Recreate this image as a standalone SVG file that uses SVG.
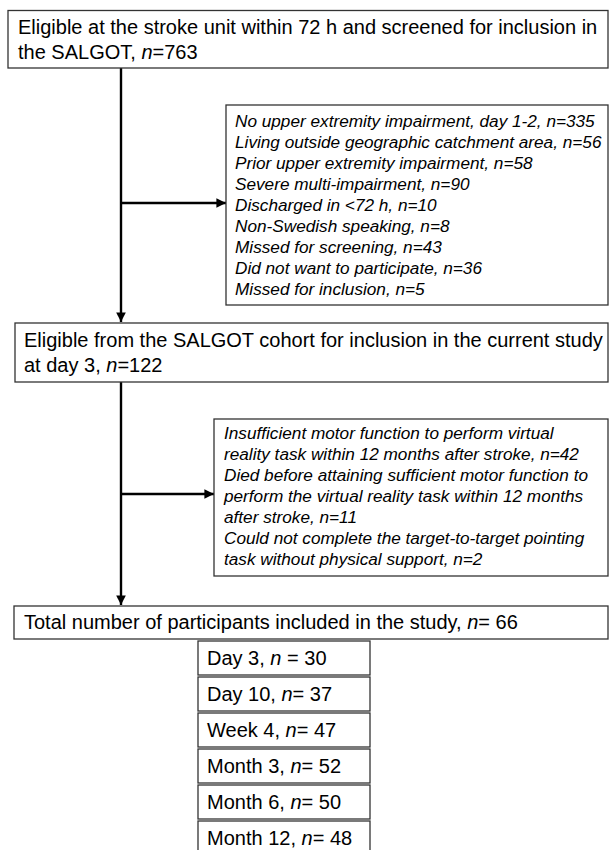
<svg xmlns="http://www.w3.org/2000/svg" width="610" height="850" viewBox="0 0 610 850">
<defs>
<style>
.box{fill:#fff;stroke:#333;stroke-width:1.3}
.t{font-family:"Liberation Sans",Arial,sans-serif;font-size:20px;fill:#000}
.ti{font-family:"Liberation Sans",Arial,sans-serif;font-size:17.2px;font-style:italic;fill:#000}
.conn{stroke:#000;stroke-width:2.4;fill:none}
</style>
<marker id="arr" viewBox="0 0 10 10" refX="10" refY="5" markerWidth="4" markerHeight="4" orient="auto" markerUnits="strokeWidth">
<path d="M0,0 L10,5 L0,10 z" fill="#000"/>
</marker>
</defs>
<rect width="610" height="850" fill="#fff"/>
<g id="connectors">
<line class="conn" x1="121" y1="68" x2="121" y2="322" marker-end="url(#arr)"/>
<line class="conn" x1="121" y1="203" x2="226" y2="203" marker-end="url(#arr)"/>
<line class="conn" x1="121" y1="382" x2="121" y2="605" marker-end="url(#arr)"/>
<line class="conn" x1="121" y1="494" x2="214" y2="494" marker-end="url(#arr)"/>
</g>
<g id="n1">
<rect class="box" x="8" y="10.5" width="600" height="57.5"/>
<text class="t" x="18" y="34">Eligible at the stroke unit within 72 h and screened for inclusion in</text>
<text class="t" x="18" y="59">the SALGOT, <tspan font-style="italic">n</tspan>=763</text>
</g>
<g id="excl1">
<rect class="box" x="226" y="105" width="382" height="200"/>
<text class="ti" x="235">
<tspan x="235" y="127">No upper extremity impairment, day 1-2, n=335</tspan>
<tspan x="235" y="148">Living outside geographic catchment area, n=56</tspan>
<tspan x="235" y="169">Prior upper extremity impairment, n=58</tspan>
<tspan x="235" y="190">Severe multi-impairment, n=90</tspan>
<tspan x="235" y="211">Discharged in &lt;72 h, n=10</tspan>
<tspan x="235" y="232">Non-Swedish speaking, n=8</tspan>
<tspan x="235" y="253">Missed for screening, n=43</tspan>
<tspan x="235" y="274">Did not want to participate, n=36</tspan>
<tspan x="235" y="295">Missed for inclusion, n=5</tspan>
</text>
</g>
<g id="n2">
<rect class="box" x="15" y="323" width="593" height="59"/>
<text class="t" x="24" y="347">Eligible from the SALGOT cohort for inclusion in the current study</text>
<text class="t" x="24" y="372">at day 3, <tspan font-style="italic">n</tspan>=122</text>
</g>
<g id="excl2">
<rect class="box" x="214" y="419" width="394" height="157"/>
<text class="ti">
<tspan x="224" y="439">Insufficient motor function to perform virtual</tspan>
<tspan x="224" y="460">reality task within 12 months after stroke, n=42</tspan>
<tspan x="224" y="481">Died before attaining sufficient motor function to</tspan>
<tspan x="224" y="502">perform the virtual reality task within 12 months</tspan>
<tspan x="224" y="523">after stroke, n=11</tspan>
<tspan x="224" y="544">Could not complete the target-to-target pointing</tspan>
<tspan x="224" y="565">task without physical support, n=2</tspan>
</text>
</g>
<g id="total">
<rect class="box" x="14" y="606" width="594" height="33"/>
<text class="t" x="24" y="629">Total number of participants included in the study, <tspan font-style="italic">n</tspan>= 66</text>
</g>
<g id="day3">
<rect class="box" x="198" y="641" width="172" height="34"/>
<text class="t" x="207" y="665">Day 3, <tspan font-style="italic">n</tspan> = 30</text>
</g>
<g id="day10">
<rect class="box" x="198" y="677" width="172" height="34"/>
<text class="t" x="207" y="701">Day 10, <tspan font-style="italic">n</tspan>= 37</text>
</g>
<g id="week4">
<rect class="box" x="198" y="713" width="172" height="34"/>
<text class="t" x="207" y="737">Week 4, <tspan font-style="italic">n</tspan>= 47</text>
</g>
<g id="month3">
<rect class="box" x="198" y="749" width="172" height="34"/>
<text class="t" x="207" y="773">Month 3, <tspan font-style="italic">n</tspan>= 52</text>
</g>
<g id="month6">
<rect class="box" x="198" y="785" width="172" height="34"/>
<text class="t" x="207" y="809">Month 6, <tspan font-style="italic">n</tspan>= 50</text>
</g>
<g id="month12">
<rect class="box" x="198" y="821" width="172" height="34"/>
<text class="t" x="207" y="845">Month 12, <tspan font-style="italic">n</tspan>= 48</text>
</g>
</svg>
